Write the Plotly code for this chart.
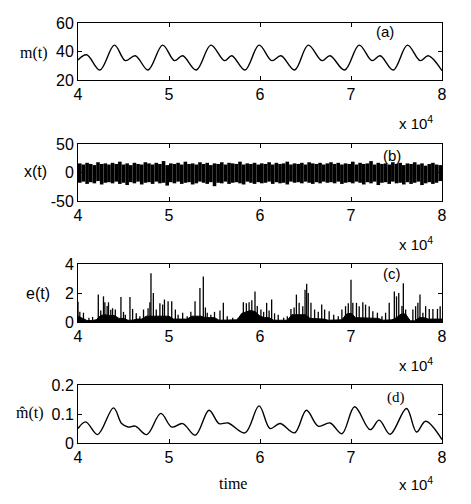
import plotly.graph_objects as go

# page body adds an 8px margin, so the figure is drawn 8px in from the window corner
OFF = 8
W, H = 471 - OFF, 504 - OFF

# ---------------- data ----------------
tick_vals = [40000, 50000, 60000, 70000, 80000]
tick_text = ["4", "5", "6", "7", "8"]

# (a) m(t) knots
m_t = [40000, 40950, 42400, 44000, 45200, 46300, 47700, 49300, 50600, 51500,
       53000, 54600, 56100, 56900, 58350, 59900, 61300, 62300, 63800, 65300,
       66800, 67700, 69300, 70900, 72300, 73200, 74650, 76200, 77600, 78500, 80000]
m_v = [34.0, 37.7, 27.0, 44.5, 33.6, 37.0, 27.0, 44.5, 33.6, 37.0,
       27.0, 44.5, 33.6, 37.0, 27.0, 44.5, 33.6, 37.0, 27.0, 44.5,
       33.6, 37.0, 27.0, 44.5, 33.6, 37.0, 27.0, 44.5, 33.6, 37.0, 26.5]

# (b) x(t): upper / lower excursions, one pair every 400 time units
x_hi = [16, 14, 17, 15, 13, 18, 15, 16, 14, 17,
        15, 19, 14, 16, 13, 17, 15, 14, 18, 16,
        14, 17, 15, 20, 13, 16, 15, 17, 14, 19,
        15, 16, 14, 18, 15, 17, 13, 16, 15, 18,
        14, 17, 16, 15, 19, 14, 16, 15, 17, 14,
        16, 15, 18, 14, 17, 15, 16, 19, 14, 16,
        15, 17, 14, 18, 16, 15, 17, 14, 16, 18,
        15, 17, 14, 16, 15, 19, 14, 17, 15, 16,
        20, 14, 17, 15, 16, 14, 18, 15, 17, 13,
        16, 15, 18, 14, 16, 12, 15, 17, 14, 13]
x_lo = [-18, -16, -20, -17, -19, -15, -21, -18, -17, -19,
        -16, -20, -18, -22, -17, -19, -16, -21, -18, -17,
        -20, -16, -19, -18, -23, -17, -19, -16, -20, -18,
        -17, -21, -19, -16, -18, -20, -17, -24, -18, -19,
        -16, -20, -18, -17, -19, -21, -16, -18, -20, -17,
        -19, -18, -16, -20, -17, -19, -18, -21, -16, -18,
        -17, -19, -16, -18, -20, -17, -19, -16, -18, -17,
        -19, -16, -20, -18, -17, -19, -16, -18, -21, -17,
        -19, -16, -22, -18, -17, -20, -16, -19, -18, -21,
        -17, -20, -18, -16, -22, -19, -17, -20, -18, -15]
x_t0 = 40000
x_step = 400

# (c) e(t): dense base level (every 500) and individual spikes
e_base_t = [40000 + 500 * i for i in range(81)]
e_base_v = [0.4, 0.25, 0.1, 0.1, 0.15, 0.45, 0.5, 0.45, 0.45, 0.25,
            0.25, 0.12, 0.12, 0.2, 0.2, 0.4, 0.4, 0.45, 0.45, 0.45,
            0.4, 0.2, 0.2, 0.2, 0.2, 0.4, 0.4, 0.4, 0.3, 0.3,
            0.3, 0.12, 0.12, 0.12, 0.12, 0.15, 0.6, 0.7, 0.8, 0.7,
            0.4, 0.3, 0.3, 0.12, 0.12, 0.12, 0.12, 0.5, 0.5, 0.55,
            0.5, 0.25, 0.25, 0.25, 0.2, 0.12, 0.12, 0.12, 0.15, 0.55,
            0.6, 0.3, 0.3, 0.3, 0.3, 0.3, 0.25, 0.12, 0.12, 0.15,
            0.3, 0.55, 0.55, 0.08, 0.08, 0.3, 0.3, 0.2, 0.2, 0.2, 0.2]
e_spk_t = [40000, 40200, 40600, 41200, 41600, 42230, 42500, 42800, 42950, 43200,
           43350, 43600, 43800, 44100, 44720, 45000, 45200, 45710, 46000, 46400,
           46800, 47200, 47700, 47900, 48020, 48280, 48600, 49000, 49300, 49500,
           49900, 50300, 50700, 51000, 51500, 52000, 52400, 52860, 53400, 53770,
           54000, 54200, 54600, 55000, 55600, 55970, 56400, 57000, 57600, 58170,
           58500, 58800, 59100, 59450, 59700, 60100, 60400, 60730, 61000, 61280,
           61600, 62000, 62600, 63000, 63400, 63750, 64000, 64300, 64700, 64950,
           65130, 65300, 65600, 66000, 66400, 66780, 67100, 67600, 68100, 68600,
           69000, 69400, 69700, 70000, 70200, 70600, 70900, 71300, 71600, 72000,
           72400, 72900, 73400, 73800, 74200, 74760, 75000, 75250, 75600, 75750,
           76000, 76400, 76800, 77100, 77350, 77580, 77900, 78200, 78600, 79000,
           79500, 79800]
e_spk_v = [1.40, 0.70, 0.64, 0.30, 0.35, 1.89, 0.80, 1.77, 1.36, 1.10,
           1.36, 0.85, 0.95, 0.86, 1.73, 0.70, 0.50, 1.73, 0.90, 0.60,
           0.40, 0.86, 0.95, 1.36, 3.36, 2.00, 0.86, 1.30, 1.20, 1.55,
           1.43, 1.43, 0.86, 0.50, 0.64, 0.40, 0.70, 1.43, 2.34, 3.14,
           1.00, 0.64, 0.50, 0.70, 0.80, 1.32, 0.40, 0.30, 0.30, 1.36,
           1.30, 1.36, 1.50, 2.11, 1.10, 0.86, 0.70, 1.32, 0.80, 1.55,
           0.60, 0.50, 0.30, 0.40, 0.90, 1.00, 1.89, 1.32, 1.09, 2.23,
           2.64, 2.00, 1.32, 0.86, 0.70, 1.20, 0.86, 0.75, 0.50, 0.40,
           0.86, 1.09, 1.30, 2.91, 1.32, 1.32, 1.09, 1.36, 1.20, 1.09,
           0.75, 0.64, 0.40, 0.64, 1.32, 2.11, 1.77, 2.00, 1.10, 2.68,
           0.86, 0.20, 0.86, 1.09, 1.32, 1.89, 0.64, 1.09, 0.90, 0.90,
           0.90, 1.09]

# (d) m_hat(t) knots
mh_t = [40000, 40850, 42150, 43900, 44800, 45500, 46300, 47550, 49100, 50300,
        51500, 52900, 54400, 55500, 56500, 58350, 59900, 61100, 62200, 63800,
        65100, 66400, 67700, 69000, 70400, 72100, 73100, 74300, 76100, 77200,
        78200, 80000]
mh_v = [0.050, 0.073, 0.029, 0.121, 0.067, 0.055, 0.058, 0.029, 0.102, 0.055,
        0.067, 0.027, 0.113, 0.067, 0.069, 0.035, 0.128, 0.050, 0.067, 0.035,
        0.113, 0.058, 0.069, 0.032, 0.125, 0.046, 0.079, 0.030, 0.119, 0.038,
        0.075, 0.012]

# ---------------- layout helpers (window pixel -> paper fraction) ----------------
def px_x(p):
    return (p - OFF) / W

def px_y(p):
    return 1 - (p - OFF) / H

X_DOM = [px_x(78), px_x(442)]
boxes = [(23, 80), (144, 201), (264, 322), (385, 443)]
SANS = "Liberation Sans, Arial, sans-serif"
SERIF = "Liberation Serif, Times New Roman, serif"

fig = go.Figure()

line_style = dict(color="black", width=1.4)

# (a)
fig.add_trace(go.Scatter(x=m_t, y=m_v, mode="lines", line=dict(shape="spline", smoothing=1.0, **line_style),
                         xaxis="x", yaxis="y", showlegend=False))

# (b) vertical excursions built from hi/lo arrays
xb_t, xb_v = [], []
for i, (h, l) in enumerate(zip(x_hi, x_lo)):
    t = x_t0 + i * x_step + x_step / 2
    xb_t += [t, t, None]
    xb_v += [l, h, None]
fig.add_trace(go.Scatter(x=xb_t, y=xb_v, mode="lines", line=dict(color="black", width=3.6),
                         xaxis="x2", yaxis="y2", showlegend=False))

# (c) base + spikes
fig.add_trace(go.Scatter(x=e_base_t, y=e_base_v, mode="lines", line=dict(color="black", width=1),
                         fill="tozeroy", fillcolor="black", xaxis="x3", yaxis="y3", showlegend=False))
sx, sy = [], []
for t, v in zip(e_spk_t, e_spk_v):
    sx += [t, t, None]
    sy += [0, v, None]
fig.add_trace(go.Scatter(x=sx, y=sy, mode="lines", line=dict(color="black", width=1.3),
                         xaxis="x3", yaxis="y3", showlegend=False))

# (d)
fig.add_trace(go.Scatter(x=mh_t, y=mh_v, mode="lines", line=dict(shape="spline", smoothing=1.0, **line_style),
                         xaxis="x4", yaxis="y4", showlegend=False))

y_ranges = [[20, 60], [-50, 50], [0, 4], [0, 0.2]]
y_ticks = [[20, 40, 60], [-50, 0, 50], [0, 2, 4], [0, 0.1, 0.2]]
y_text = [["20", "40", "60"], ["-50", "0", "50"], ["0", "2", "4"], ["0", "0.1", "0.2"]]

common = dict(showline=True, linecolor="black", linewidth=1, mirror="ticks", ticks="inside",
              ticklen=4, tickcolor="black", showgrid=False, zeroline=False, automargin=False,
              tickfont=dict(family=SANS, size=16, color="black"))

layout = dict(width=W, height=H, margin=dict(l=0, r=0, t=0, b=0, autoexpand=False),
              paper_bgcolor="white", plot_bgcolor="white", showlegend=False)

for k, (top, bot) in enumerate(boxes):
    sfx = "" if k == 0 else str(k + 1)
    layout["xaxis" + sfx] = dict(domain=X_DOM, range=[40000, 80000], tickvals=tick_vals, ticktext=tick_text,
                                 anchor="y" + sfx, **common)
    layout["yaxis" + sfx] = dict(domain=[px_y(bot), px_y(top)], range=y_ranges[k], tickvals=y_ticks[k],
                                 ticktext=y_text[k], anchor="x" + sfx, **common)

fig.update_layout(**layout)

ann = []
# y labels
ylabels = [("m(t)", 50, 53, SERIF), ("x(t)", 49, 172, SANS), ("e(t)", 52, 293, SANS), ("m\u0302(t)", 46, 413, SERIF)]
for txt, xr, yc, fam in ylabels:
    ann.append(dict(text=txt, x=px_x(xr), y=px_y(yc), xref="paper", yref="paper", xanchor="right",
                    yanchor="middle", showarrow=False, font=dict(family=fam, size=16, color="black")))
# panel tags
tags = [("(a)", 385, 31, SANS), ("(b)", 392, 155, SANS), ("(c)", 392, 273, SANS), ("(d)", 396, 397, SERIF)]
for txt, xc, yc, fam in tags:
    ann.append(dict(text=txt, x=px_x(xc), y=px_y(yc), xref="paper", yref="paper", xanchor="center",
                    yanchor="middle", showarrow=False, font=dict(family=fam, size=15, color="black")))
# exponent labels
for yb in [134, 255, 376, 495]:
    ann.append(dict(text="x 10<sup>4</sup>", x=px_x(397), y=px_y(yb), xref="paper", yref="paper",
                    xanchor="left", yanchor="bottom", showarrow=False,
                    font=dict(family=SANS, size=15, color="black")))
# x title
ann.append(dict(text="time", x=px_x(233), y=px_y(483), xref="paper", yref="paper", xanchor="center",
                yanchor="middle", showarrow=False, font=dict(family=SERIF, size=16, color="black")))

fig.update_layout(annotations=ann)

fig.write_html("out.html")
